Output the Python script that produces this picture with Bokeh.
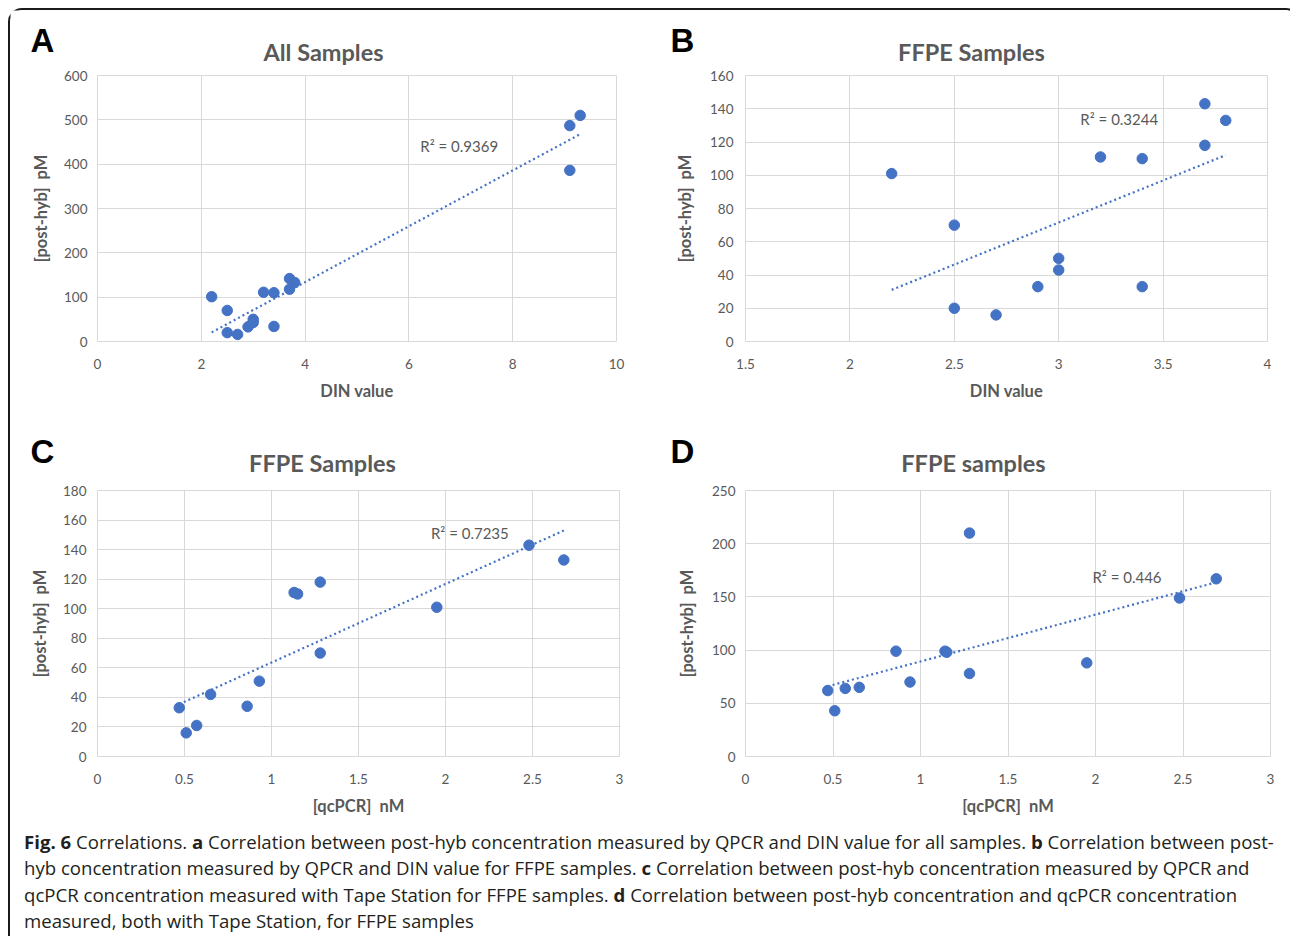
from bokeh.plotting import figure
from bokeh.models import Label, Range1d, Div
from bokeh.layouts import row, column
from bokeh.embed import file_html
from bokeh.resources import INLINE
from bokeh.core.properties import value
import numpy as np

# ---------------- data ----------------
a_din = [2.2, 2.5, 2.5, 2.7, 2.9, 3.0, 3.0, 3.2, 3.4, 3.4, 3.7, 3.7, 3.8, 9.1, 9.1, 9.3]
a_posthyb = [101, 70, 20, 16, 33, 50, 43, 111, 110, 34, 142, 118, 133, 487, 386, 510]

b_din = [2.2, 2.5, 2.5, 2.7, 2.9, 3.0, 3.0, 3.2, 3.4, 3.4, 3.7, 3.7, 3.8]
b_posthyb = [101, 70, 20, 16, 33, 50, 43, 111, 110, 33, 143, 118, 133]

c_qcpcr = [0.47, 0.51, 0.57, 0.65, 0.86, 0.93, 1.13, 1.15, 1.28, 1.28, 1.95, 2.48, 2.68]
c_posthyb = [33, 16, 21, 42, 34, 51, 111, 110, 118, 70, 101, 143, 133]

d_qcpcr = [0.47, 0.51, 0.57, 0.65, 0.86, 0.94, 1.14, 1.15, 1.28, 1.28, 1.95, 2.48, 2.69]
d_posthyb = [62, 43, 64, 65, 99, 70, 99, 98, 210, 78, 88, 149, 167]

r2_texts = ["R\u00b2 = 0.9369", "R\u00b2 = 0.3244", "R\u00b2 = 0.7235", "R\u00b2 = 0.446"]
titles = ["All Samples", "FFPE Samples", "FFPE Samples", "FFPE samples"]
letters = ["A", "B", "C", "D"]
x_titles = ["DIN value", "DIN value", "[qcPCR]\u00a0 nM", "[qcPCR]\u00a0 nM"]
y_title = "[post-hyb]\u00a0 pM"

a_xticks = [0, 2, 4, 6, 8, 10]
a_xlabels = ["0", "2", "4", "6", "8", "10"]
a_yticks = [0, 100, 200, 300, 400, 500, 600]
a_ylabels = ["0", "100", "200", "300", "400", "500", "600"]

b_xticks = [1.5, 2, 2.5, 3, 3.5, 4]
b_xlabels = ["1.5", "2", "2.5", "3", "3.5", "4"]
b_yticks = [0, 20, 40, 60, 80, 100, 120, 140, 160]
b_ylabels = ["0", "20", "40", "60", "80", "100", "120", "140", "160"]

c_xticks = [0, 0.5, 1, 1.5, 2, 2.5, 3]
c_xlabels = ["0", "0.5", "1", "1.5", "2", "2.5", "3"]
c_yticks = [0, 20, 40, 60, 80, 100, 120, 140, 160, 180]
c_ylabels = ["0", "20", "40", "60", "80", "100", "120", "140", "160", "180"]

d_xticks = [0, 0.5, 1, 1.5, 2, 2.5, 3]
d_xlabels = ["0", "0.5", "1", "1.5", "2", "2.5", "3"]
d_yticks = [0, 50, 100, 150, 200, 250]
d_ylabels = ["0", "50", "100", "150", "200", "250"]

caption_lines = [
    "<b>Fig. 6</b> Correlations. <b>a</b> Correlation between post-hyb concentration measured by QPCR and DIN value for all samples. <b>b</b> Correlation between post-",
    "hyb concentration measured by QPCR and DIN value for FFPE samples. <b>c</b> Correlation between post-hyb concentration measured by QPCR and",
    "qcPCR concentration measured with Tape Station for FFPE samples. <b>d</b> Correlation between post-hyb concentration and qcPCR concentration",
    "measured, both with Tape Station, for FFPE samples",
]

# ---------------- styles ----------------
BLUE = "#4472C4"
GRAY = "#595959"
GRID = "#D9D9D9"
FONT = "Lato"
W = 639


def panel(h, left, right, top, bottom, xr, yr, xt, xl, yt, yl, xs, ys,
          r2, r2pos, xlab, ytick_standoff, ylab_standoff):
    p = figure(width=W, height=h, x_range=Range1d(*xr), y_range=Range1d(*yr),
               output_backend="svg", toolbar_location=None,
               min_border_left=left, min_border_right=right,
               min_border_top=top, min_border_bottom=bottom)
    p.background_fill_color = "white"
    p.border_fill_color = "white"
    p.outline_line_color = GRID
    p.outline_line_width = 1

    p.xaxis.ticker = xt
    p.xaxis.major_label_overrides = dict(zip(xt, xl))
    p.yaxis.ticker = yt
    p.yaxis.major_label_overrides = dict(zip(yt, yl))
    p.xgrid.ticker = xt
    p.ygrid.ticker = yt
    for g in (p.xgrid, p.ygrid):
        g.grid_line_color = GRID
        g.grid_line_width = 1

    for ax in (p.xaxis, p.yaxis):
        ax.axis_line_color = None
        ax.major_tick_line_color = None
        ax.minor_tick_line_color = None
        ax.major_tick_out = 0
        ax.major_tick_in = 0
        ax.minor_tick_out = 0
        ax.major_label_text_font = FONT
        ax.major_label_text_font_size = "13.5px"
        ax.major_label_text_color = GRAY
        ax.axis_label_text_font = FONT
        ax.axis_label_text_font_size = "16.5px"
        ax.axis_label_text_font_style = "bold"
        ax.axis_label_text_color = GRAY

    p.xaxis.axis_label = xlab
    p.xaxis.major_label_standoff = 17
    p.xaxis.axis_label_standoff = 9
    p.yaxis.axis_label = y_title
    p.yaxis.major_label_standoff = ytick_standoff
    p.yaxis.axis_label_standoff = ylab_standoff

    # linear trendline from a least squares fit of the data
    k, b = np.polyfit(xs, ys, 1)
    tx = [min(xs), max(xs)]
    ty = [k * v + b for v in tx]
    p.line(tx, ty, line_color=BLUE, line_width=2.2, line_dash="2 3")

    p.scatter(xs, ys, size=10.5, color=BLUE, line_color=BLUE)

    p.add_layout(Label(x=r2pos[0], y=r2pos[1], text=r2, text_align="center",
                       text_baseline="middle", text_font=FONT,
                       text_font_size="15px", text_color=GRAY))
    return p


def header(h, ytop, letter_pair, letter_xy, title_pair, title_xy):
    p = figure(width=2 * W, height=h, x_range=Range1d(10, 10 + 2 * W),
               y_range=Range1d(ytop + h, ytop), output_backend="svg",
               toolbar_location=None, min_border=0,
               x_axis_location=None, y_axis_location=None)
    p.grid.visible = False
    p.outline_line_color = None
    p.background_fill_color = "white"
    p.border_fill_color = "white"
    p.text(x=[letter_xy[0][0], letter_xy[1][0]], y=[letter_xy[0][1], letter_xy[1][1]],
           text=letter_pair, text_font=value("Liberation Sans"), text_font_style="bold",
           text_font_size="33px", text_align="left", text_baseline="middle",
           text_color="black")
    p.text(x=[title_xy[0][0], title_xy[1][0]], y=[title_xy[0][1], title_xy[1][1]],
           text=title_pair, text_font=value(FONT), text_font_style="bold",
           text_font_size="23.5px", text_align="center", text_baseline="middle",
           text_color=GRAY)
    return p


h1 = header(55, 10, letters[0:2], [(30, 40), (670, 40)], titles[0:2], [(323, 51), (971, 51)])
h2 = header(60, 420, letters[2:4], [(30, 451), (670, 451)], titles[2:4], [(322, 462), (973, 462)])

pa = panel(355, 87, 33, 10, 79, (0, 10), (0, 600), a_xticks, a_xlabels,
           a_yticks, a_ylabels, a_din, a_posthyb, r2_texts[0], (6.97, 442),
           x_titles[0], 10, 10)
pb = panel(355, 96, 21, 10, 79, (1.5, 4), (0, 160), b_xticks, b_xlabels,
           b_yticks, b_ylabels, b_din, b_posthyb, r2_texts[1], (3.29, 134),
           x_titles[1], 12, 12)
pc = panel(340, 87, 30, 10, 64, (0, 3), (0, 180), c_xticks, c_xlabels,
           c_yticks, c_ylabels, c_qcpcr, c_posthyb, r2_texts[2], (2.14, 151),
           x_titles[2], 11, 10)
pd_ = panel(340, 96, 18, 10, 64, (0, 3), (0, 250), d_xticks, d_xlabels,
            d_yticks, d_ylabels, d_qcpcr, d_posthyb, r2_texts[3], (2.18, 169),
            x_titles[3], 10, 12)

caption_html = (
    '<div style="font-family: \'Open Sans\', sans-serif; font-size: 18.6px; line-height: 26.3px; '
    'color: #231f20; padding-left: 9px; padding-top: 4px; white-space: nowrap;">'
    + "<br>".join(caption_lines) + "</div>"
)
cap = Div(text=caption_html, width=2 * W, height=114,
          styles={"overflow": "hidden"})

layout = column(h1, row(pa, pb), h2, row(pc, pd_), cap,
                styles={"margin-left": "8px", "margin-top": "8px",
                        "border-left": "2px solid #1a1a1a",
                        "border-top": "2px solid #1a1a1a",
                        "border-right": "2px solid #1a1a1a",
                        "border-top-left-radius": "14px",
                        "border-top-right-radius": "14px"})

open("out.html", "w").write(file_html(layout, INLINE))
